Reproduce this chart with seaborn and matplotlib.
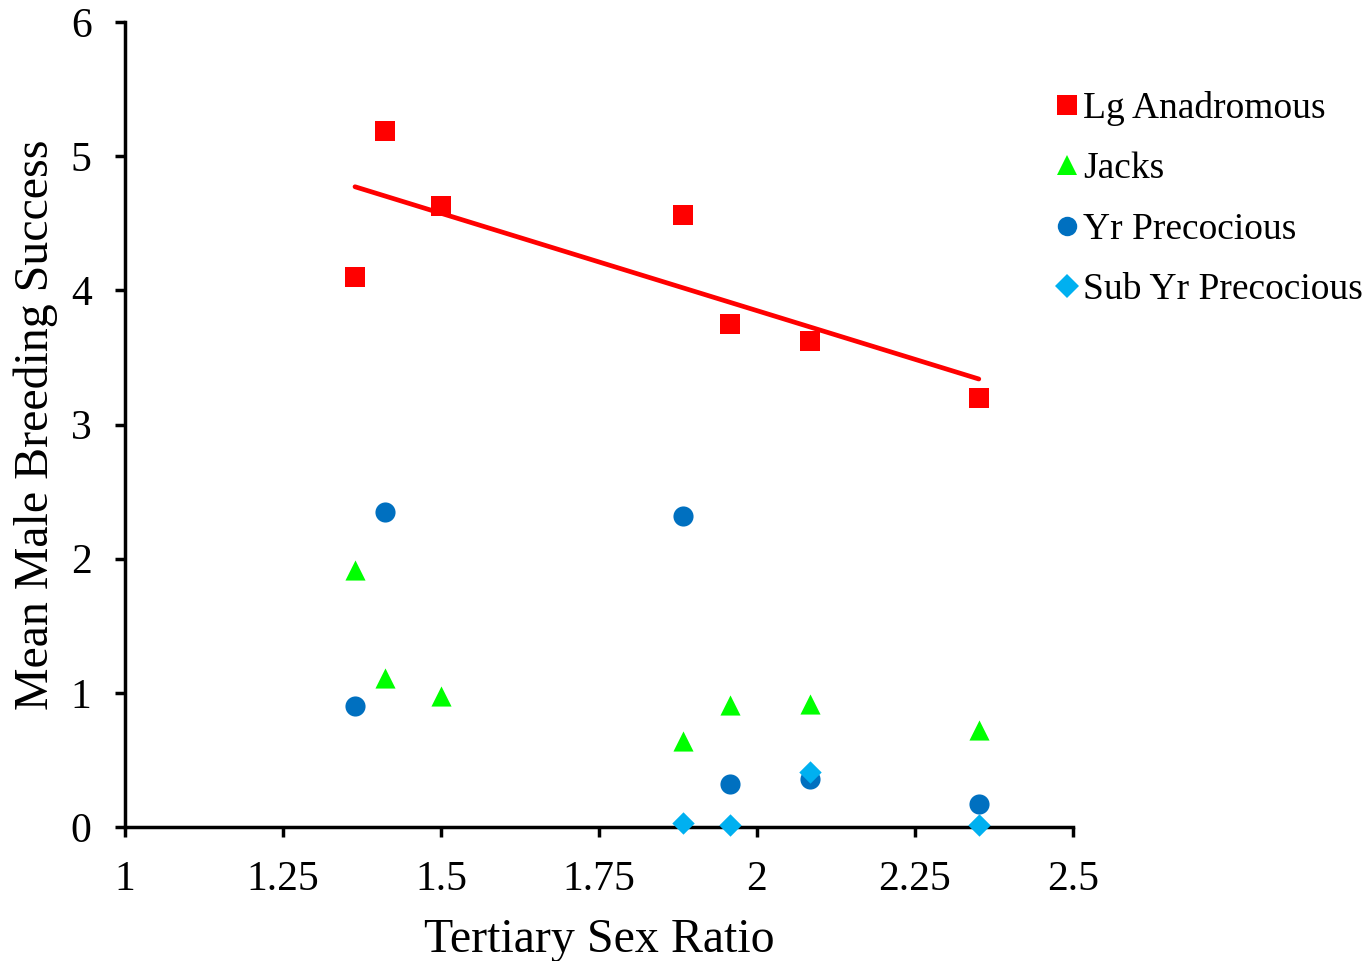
import numpy as np
import pandas as pd
import matplotlib
matplotlib.use("Agg")
import matplotlib.pyplot as plt
import seaborn as sns
from matplotlib.lines import Line2D

sns.set_style("white")
plt.rcParams['font.family'] = ['Liberation Serif', 'DejaVu Serif']
plt.rcParams['text.color'] = 'black'
plt.rcParams['axes.labelcolor'] = 'black'
plt.rcParams['xtick.color'] = 'black'
plt.rcParams['ytick.color'] = 'black'

series_names = ["Lg Anadromous", "Jacks", "Yr Precocious", "Sub Yr Precocious"]
lg_x = [1.364, 1.411, 1.500, 1.883, 1.957, 2.084, 2.351]
lg_y = [4.10, 5.19, 4.63, 4.56, 3.75, 3.62, 3.20]
jacks_x = [1.364, 1.411, 1.500, 1.883, 1.957, 2.084, 2.351]
jacks_y = [1.915, 1.11, 0.98, 0.64, 0.91, 0.92, 0.72]
yr_x = [1.364, 1.411, 1.883, 1.957, 2.084, 2.351]
yr_y = [0.90, 2.35, 2.32, 0.32, 0.355, 0.17]
sub_x = [1.883, 1.957, 2.084, 2.351]
sub_y = [0.03, 0.015, 0.41, 0.015]

colors = {"Lg Anadromous": "#FF0000", "Jacks": "#00FF00",
          "Yr Precocious": "#0070C0", "Sub Yr Precocious": "#00B0F0"}
markers = {"Lg Anadromous": "s", "Jacks": "^",
           "Yr Precocious": "o", "Sub Yr Precocious": "D"}
sizes = {"Lg Anadromous": 190, "Jacks": 210, "Yr Precocious": 210, "Sub Yr Precocious": 130}

frames = []
for name, xs, ys in [("Lg Anadromous", lg_x, lg_y), ("Jacks", jacks_x, jacks_y),
                     ("Yr Precocious", yr_x, yr_y), ("Sub Yr Precocious", sub_x, sub_y)]:
    frames.append(pd.DataFrame({"x": xs, "y": ys, "series": name}))
df = pd.concat(frames, ignore_index=True)

fig = plt.figure(figsize=(13.7, 9.61), dpi=100)
ax = fig.add_axes([0.0912, 0.1394, 0.6920, 0.8376])

for name in series_names:
    sub = df[df["series"] == name]
    sns.scatterplot(data=sub, x="x", y="y", color=colors[name], marker=markers[name],
                    s=sizes[name], linewidth=0, ax=ax, zorder=4, clip_on=False)

sns.regplot(x=np.array(lg_x), y=np.array(lg_y), scatter=False, ci=None, ax=ax,
            line_kws=dict(color="#FF0000", linewidth=3.4, solid_capstyle="round", zorder=2))

ax.set_xlim(1, 2.5)
ax.set_ylim(0, 6)
ax.set_xticks([1, 1.25, 1.5, 1.75, 2, 2.25, 2.5])
ax.set_xticklabels(["1", "1.25", "1.5", "1.75", "2", "2.25", "2.5"])
ax.set_yticks([0, 1, 2, 3, 4, 5, 6])
ax.set_xlabel("Tertiary Sex Ratio", fontsize=34.5, labelpad=14)
ax.set_ylabel("Mean Male Breeding Success", fontsize=34.5, labelpad=9)
ax.tick_params(axis="both", labelsize=30, direction="out", length=7, width=2.5,
               color="black", bottom=True, left=True)
ax.tick_params(axis="x", pad=17)
ax.tick_params(axis="y", pad=17)
for side in ["top", "right"]:
    ax.spines[side].set_visible(False)
for side in ["left", "bottom"]:
    ax.spines[side].set_color("black")
    ax.spines[side].set_linewidth(2.5)

handles = [Line2D([], [], linestyle="none", marker=markers[n], color=colors[n],
                  markersize=14 if n != "Sub Yr Precocious" else 12, markeredgewidth=0)
           for n in series_names]
fig.legend(handles, series_names, loc="upper left", bbox_to_anchor=(0.760, 0.921),
           frameon=False, fontsize=27, handlelength=0.6, handletextpad=0.12,
           labelspacing=0.69, borderaxespad=0)

fig.savefig("out.png", dpi=100)
